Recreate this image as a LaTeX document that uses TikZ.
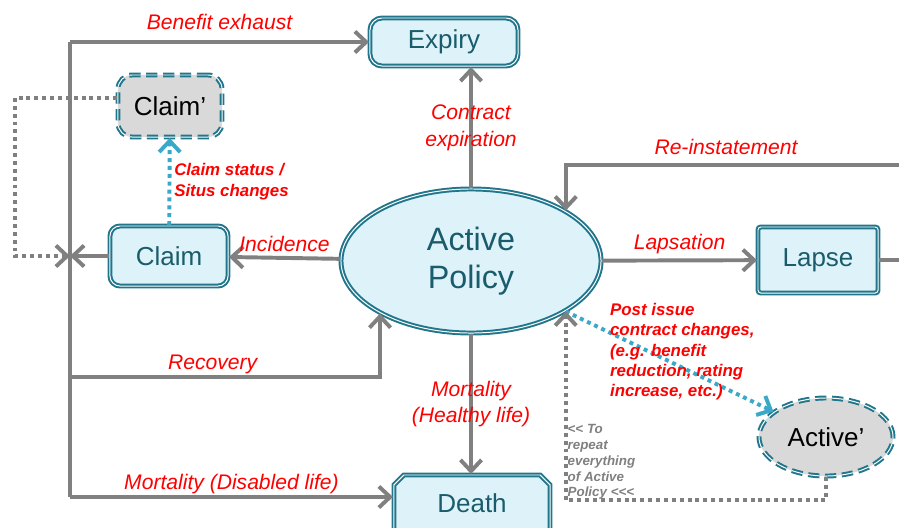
\documentclass[tikz,border=0pt]{standalone}
\usepackage{fontspec}
\setmainfont{Liberation Sans}
\usepackage{xcolor}
\usepackage{tikz}
\usetikzlibrary{arrows.meta}
\usetikzlibrary{shapes.geometric,shapes.misc}
\usetikzlibrary{calc}
\usetikzlibrary{positioning}

\definecolor{tealline}{RGB}{33,118,140}
\definecolor{statefill}{RGB}{221,243,249}
\definecolor{statetext}{RGB}{26,92,108}
\definecolor{flowgray}{RGB}{128,128,128}
\definecolor{changecyan}{RGB}{58,168,200}
\definecolor{ghostfill}{RGB}{217,217,217}

\begin{document}
\begin{tikzpicture}[x=0.025cm,y=-0.025cm,>={Straight Barb[length=8pt,width=15pt]}]
 \tikzstyle{state}=[draw=tealline,double=white,double distance=0.7pt,line width=1.4pt,fill=statefill,text=statetext,font=\fontsize{18.5}{20}\selectfont,inner sep=2pt]
 \tikzstyle{ghost}=[state,fill=ghostfill,text=black,dash pattern=on 8pt off 4pt]
 \tikzstyle{flow}=[draw=flowgray,line width=2.8pt]
 \tikzstyle{loopback}=[flow,dash pattern=on 2.8pt off 2.8pt]
 \tikzstyle{change}=[draw=changecyan,line width=2.8pt,dash pattern=on 2.8pt off 2.8pt]
 \tikzstyle{flowlabel}=[text=red,font=\itshape\fontsize{15}{19}\selectfont,inner sep=3pt]
 \tikzstyle{changelabel}=[text=red,font=\bfseries\itshape\fontsize{12}{14.5}\selectfont,align=left,inner sep=2pt]
 \tikzstyle{note}=[text=flowgray,font=\bfseries\itshape\fontsize{9.5}{11.2}\selectfont,align=left,inner sep=1pt]
 \clip (0,0) rectangle (899,527);
 % states
 \node[state,minimum width=3.7cm,minimum height=1.2cm,rounded corners=0.3cm] (expiry) at (444,42) {Expiry};
 \node[ghost,minimum width=2.6cm,minimum height=1.55cm,rounded corners=0.35cm] (claimprime) at (170,106) {Claim’};
 \node[state,minimum width=2.95cm,minimum height=1.5cm,rounded corners=0.25cm] (claim) at (169,256) {Claim};
 \node[state,ellipse,minimum width=6.5cm,minimum height=3.6cm,align=center,font=\fontsize{23}{27}\selectfont] (policy) at (471,261) {Active\\Policy};
 \node[state,minimum width=3cm,minimum height=1.65cm,rounded corners=2pt] (lapse) at (818,260) {Lapse};
 \node[state,chamfered rectangle,chamfered rectangle corners={north west,north east},chamfered rectangle xsep=3.5pt,chamfered rectangle ysep=3.5pt,minimum width=3.9cm,minimum height=1.4cm] (death) at (472,503) {Death};
 \node[ghost,ellipse,minimum width=3.35cm,minimum height=1.95cm] (activeprime) at (826,437) {Active’};
 % corners of the connectors
 \coordinate (trunktop) at (70,42);
 \coordinate (merge) at (70,256);
 \coordinate (recoverystart) at (70,377);
 \coordinate (trunkbottom) at (70,497);
 \coordinate (loopleft) at (15,256);
 \coordinate (offright) at (930,165);
 \coordinate (repeatcorner) at (826,500);
 % transitions
 \draw[flow] (trunktop) -- (trunkbottom);
 \draw[flow,->] (trunktop) -- (expiry) node[flowlabel,midway,above,yshift=4pt] {Benefit exhaust};
 \draw[flow,->] (claim) -- (merge);
 \draw[loopback,->] ([yshift=6pt]claimprime.west) -| (loopleft) -- (merge);
 \draw[flow,->] (recoverystart) -| (policy.210) node[flowlabel,pos=0.23,above,yshift=-2pt] {Recovery};
 \draw[flow,->] (trunkbottom) -- (trunkbottom -| death.west) node[flowlabel,midway,above,yshift=-2pt] {Mortality (Disabled life)};
 \draw[flow,->] (policy) -- (claim) node[flowlabel,midway,above] {Incidence};
 \draw[flow,->] (policy.north) -- (policy.north |- expiry.south) node[flowlabel,midway,align=center] {Contract\\expiration};
 \draw[flow,->] (policy.south) -- (policy.south |- death.north) node[flowlabel,midway,align=center] {Mortality\\(Healthy life)};
 \draw[flow,->] (policy) -- (lapse) node[flowlabel,midway,above] {Lapsation};
 \draw[flow,->] (lapse.east) -| (offright) -| (policy.28) node[flowlabel,pos=0.28,above,yshift=3pt] {Re-instatement};
 % changes
 \draw[change,->] (claim) -- (claimprime) node[changelabel,midway,right] {Claim status /\\Situs changes};
 \draw[change,->] (policy.-28) -- (activeprime);
 \node[changelabel,anchor=north west] (changenote) at (607,300) {Post issue\\contract changes,\\(e.g. benefit\\reduction, rating\\increase, etc.)};
 \draw[loopback,->] (activeprime) -- (repeatcorner) -| (policy.-28);
 \node[note,anchor=north west] (repeatnote) at (566,423) {<\kern0pt< To\\repeat\\everything\\of Active\\Policy <\kern0pt<\kern0pt<};
\end{tikzpicture}
\end{document}
